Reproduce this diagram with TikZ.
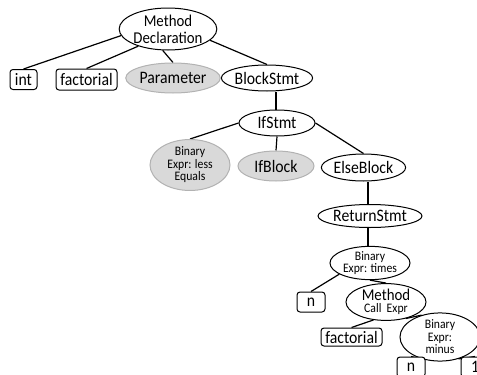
\documentclass[tikz,border=0pt]{standalone}
\usepackage{fontspec}
\setmainfont{Carlito}[FakeStretch=0.9]
\usetikzlibrary{shapes.geometric,backgrounds}
\tikzset{
  ell/.style={ellipse, draw=black, line width=1pt, fill=white, inner sep=0pt, align=center,
              font=\fontsize{17.5}{14}\selectfont},
  gell/.style={ell, fill=gray!30, draw=gray!60},
  bx/.style={rectangle, rounded corners=3pt, draw=black, line width=1pt, fill=white, inner sep=0pt,
             font=\fontsize{17.5}{14}\selectfont},
  small/.style={font=\fontsize{13}{12.5}\selectfont},
  edge/.style={draw=black, line width=1.2pt}
}
\begin{document}
\begin{tikzpicture}[x=1pt,y=-1pt]
\useasboundingbox (0,0) rectangle (477,375);
\clip (0,0) rectangle (477,375);
% nodes
\node[ell, font=\fontsize{16.5}{17}\selectfont, minimum width=86pt, minimum height=42pt] (md) at (168,29) {Method\\Declaration};
\node[bx, minimum width=27pt, minimum height=20pt] (int) at (23.5,79.5) {int};
\node[bx, minimum width=61pt, minimum height=21pt] (fa) at (86.5,79.5) {factorial};
\node[gell, minimum width=74pt, minimum height=30pt] (par) at (173,78) {Parameter};
\node[ell, minimum width=74pt, minimum height=26pt] (blk) at (267,78) {BlockStmt};
\node[ell, minimum width=76pt, minimum height=26pt] (ifs) at (277,123) {IfStmt};
\node[gell, small, minimum width=80pt, minimum height=36pt] (bl) at (190,165) {Binary\\Expr: less\\Equals};
\node[gell, minimum width=76pt, minimum height=30pt] (ifb) at (276,166) {IfBlock};
\node[ell, minimum width=77pt, minimum height=27pt] (elb) at (363.5,167.5) {ElseBlock};
\node[ell, minimum width=80pt, minimum height=23pt] (ret) at (370,216) {ReturnStmt};
\node[ell, small, minimum width=80pt, minimum height=30pt] (bt) at (370,263) {Binary\\Expr: times};
\node[bx, minimum width=28pt, minimum height=20pt] (n1) at (311,302) {n};
\node[ell, small, minimum width=80pt, minimum height=32pt] (mc) at (386,302) {{\fontsize{16.5}{13}\selectfont Method}\\Call\ \ Expr};
\node[bx, minimum width=61pt, minimum height=18pt] (fb) at (351.5,337) {factorial};
\node[ell, small, minimum width=80pt, minimum height=40pt] (bm) at (440,337) {Binary\\Expr:\\minus};
\node[bx, minimum width=28pt, minimum height=20pt] (n2) at (411,367) {n};
\node[bx, minimum width=28pt, minimum height=20pt] (one) at (475,367) {1};
% edges
\begin{scope}[on background layer]
\draw[edge] (md.188) -- (int.north);
\draw[edge] (md.210) -- (fa.north);
\draw[edge] (md.256) -- (par.north);
\draw[edge] (md.345) -- (blk.north);
\draw[edge] ([xshift=-1pt]ifs.north) -- ([xshift=-1pt]ifs.north |- blk.south);
\draw[edge] (ifs.west) -- (bl.north);
\draw[edge] (ifs.south) -- (ifb.north);
\draw[edge] (ifs.east) -- (elb.north);
\draw[edge] ([xshift=-2pt]ret.north) -- ([xshift=-2pt]ret.north |- elb.south);
\draw[edge] ([xshift=-2pt]bt.north) -- ([xshift=-2pt]bt.north |- ret.south);
\draw[edge] (bt.200) -- (n1.north);
\draw[edge] (bt.south) -- (mc.north);
\draw[edge] (mc.235) -- (fb.north);
\draw[edge] (mc.320) -- (bm.130);
\draw[edge] (bm.235) -- (n2.north);
\draw[edge] (bm.310) -- (one.north);
\end{scope}
\end{tikzpicture}
\end{document}
